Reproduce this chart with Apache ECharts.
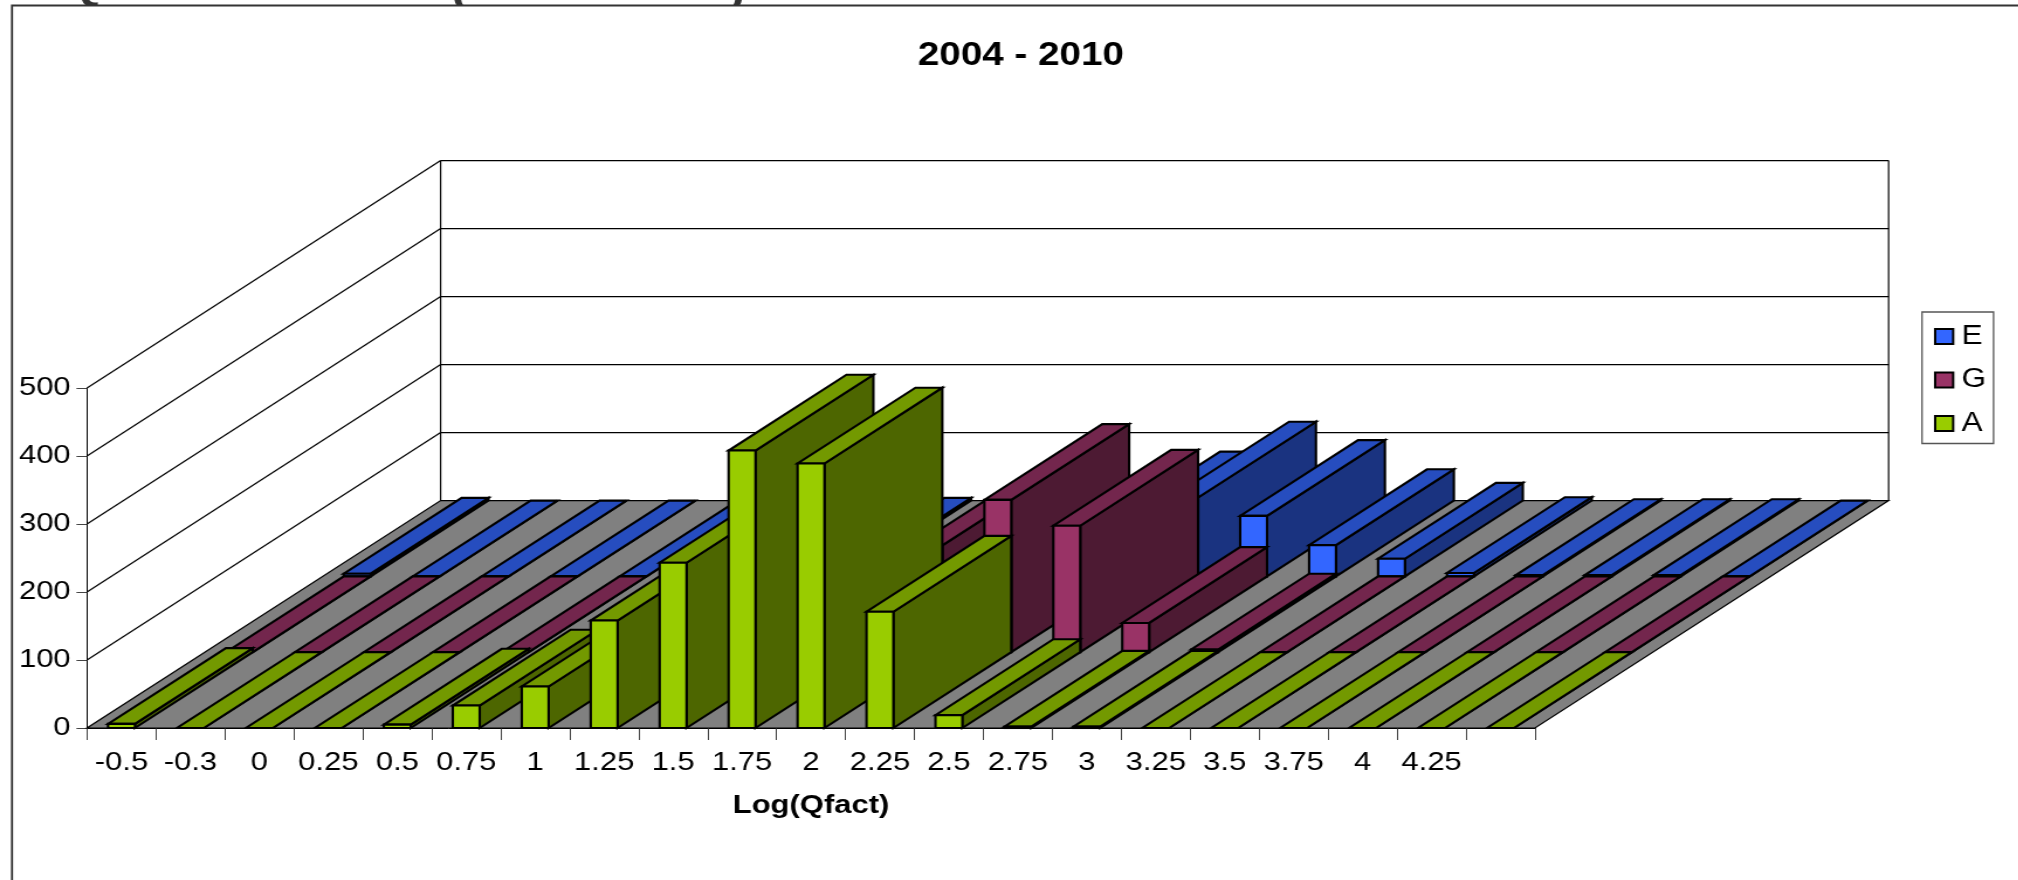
<!DOCTYPE html>
<html>
<head>
<meta charset="utf-8">
<script src="https://cdn.jsdelivr.net/npm/echarts@6/dist/echarts.min.js"></script>
<style>
html,body{margin:0;padding:0;background:#fff;overflow:hidden;width:2018px;height:880px}
#c{height:880px;transform-origin:0 0}
</style>
</head>
<body>
<div id="c"></div>
<script>
var categories = ['-0.5','-0.3','0','0.25','0.5','0.75','1','1.25','1.5','1.75','2','2.25','2.5','2.75','3','3.25','3.5','3.75','4','4.25',''];
var yTicks = [0,100,200,300,400,500];
var seriesA = [6,0,0,0,5,33,61,158,243,408,389,171,19,2,2,0,0,0,0,0,0];
var seriesG = [0,0,0,0,0,0,0,0,6,60,157,224,186,43,4,0,0,0,0,0,0];
var seriesE = [4,0,0,0,0,0,0,4,4,10,28,72,116,89,46,26,5,2,2,2,0];

// The reference picture is horizontally stretched; the chart is drawn narrower and widened as a whole.
var SX = 1.17;
var DX = 353.6 / SX, DY = 227.4, BAR = 0.39, LW = 2.1;

var el = document.getElementById('c');
el.style.width = (2018 / SX) + 'px';
el.style.transform = 'scaleX(' + SX + ')';
var chart = echarts.init(el);

function poly(pts, fill, stroke, lw) {
  return {type:'polygon', shape:{points:pts}, style:{fill:fill, stroke:stroke, lineWidth:lw}};
}
function seg(x1,y1,x2,y2,col,lw) {
  return {type:'line', shape:{x1:x1,y1:y1,x2:x2,y2:y2}, style:{stroke:col, lineWidth:lw, fill:null}};
}
function wallItem(params, api) {
  var cs = params.coordSys, t = api.value(1), y = api.coord([0,t])[1];
  var L = cs.x, R = cs.x + cs.width, kids = [];
  if (t === 0) {
    kids.push(poly([[L,y],[R,y],[R+DX,y-DY],[L+DX,y-DY]], '#808080', '#000', 1.2));
  } else {
    kids.push(seg(L,y,L+DX,y-DY,'#000',1.2));
    kids.push(seg(L+DX,y-DY,R+DX,y-DY,'#000',1.2));
  }
  if (t === yTicks[yTicks.length-1]) {
    var y0 = api.coord([0,0])[1];
    kids.push(seg(L+DX,y-DY,L+DX,y0-DY,'#000',1.2));
    kids.push(seg(R+DX,y-DY,R+DX,y0-DY,'#000',1.2));
  }
  return {type:'group', children:kids};
}
function barRenderer(z0, front, top, side) {
  return function(params, api) {
    var i = api.value(0), v = api.value(1);
    var p0 = api.coord([i,0]), p1 = api.coord([i,v]);
    var hw = api.size([1,0])[0] * BAR / 2;
    var ox = z0 * DX, oy = -z0 * DY, dx = DX / 3, dy = -DY / 3;
    var xl = p0[0] - hw + ox, xr = p0[0] + hw + ox, yb = p0[1] + oy, yt = p1[1] + oy;
    return {type:'group', children:[
      poly([[xr,yb],[xr+dx,yb+dy],[xr+dx,yt+dy],[xr,yt]], side, '#000', LW),
      poly([[xl,yt],[xr,yt],[xr+dx,yt+dy],[xl+dx,yt+dy]], top, '#000', LW),
      poly([[xl,yb],[xr,yb],[xr,yt],[xl,yt]], front, '#000', LW)
    ]};
  };
}
function pairs(arr){ return arr.map(function(v,i){ return [i,v]; }); }

chart.setOption({
  animation:false,
  backgroundColor:'#fff',
  textStyle:{fontFamily:'Liberation Sans'},
  title:{text:'2004 - 2010', left:1015/SX, top:34.5, textAlign:'center',
    textStyle:{fontFamily:'Liberation Sans',fontWeight:'bold',fontSize:33,color:'#000'}},
  legend:{data:['E','G','A'], orient:'vertical', left:1922/SX, top:312, padding:[11,6.5,6.5,12/SX],
    icon:'rect', itemWidth:18/SX, itemHeight:15, itemGap:16.5,
    borderColor:'#555', borderWidth:1.3, backgroundColor:'#fff',
    itemStyle:{borderColor:'#000',borderWidth:2},
    textStyle:{fontFamily:'Liberation Sans',fontSize:27,color:'#000',padding:[0,0,0,2]}},
  grid:{left:87/SX, top:388, width:1448/SX, height:340},
  xAxis:{type:'category', data:categories, boundaryGap:true,
    name:'Log(Qfact)', nameLocation:'middle', nameGap:64,
    nameTextStyle:{fontFamily:'Liberation Sans',fontWeight:'bold',fontSize:26.5,color:'#000'},
    axisLine:{lineStyle:{color:'#000',width:1}},
    axisTick:{show:true,length:12,interval:0,lineStyle:{color:'#444',width:1}},
    axisLabel:{interval:0,margin:21,fontFamily:'Liberation Sans',fontSize:26.5,color:'#000'},
    splitLine:{show:false}},
  yAxis:{type:'value', min:0, max:500, interval:100,
    axisLine:{show:true,lineStyle:{color:'#000',width:1}},
    axisTick:{show:true,length:9,lineStyle:{color:'#444',width:1}},
    axisLabel:{margin:14,fontFamily:'Liberation Sans',fontSize:26.5,color:'#000'},
    splitLine:{show:false}},
  graphic:[
    {type:'text', z:-2, x:65/SX, y:-35, style:{text:'Q',font:'bold 42px "Liberation Sans"',fill:'#333'}},
    {type:'text', z:-2, x:451/SX, y:-30, style:{text:'(',font:'bold 42px "Liberation Sans"',fill:'#333'}},
    {type:'text', z:-2, x:729/SX, y:-30, style:{text:')',font:'bold 42px "Liberation Sans"',fill:'#333'}},
    {type:'rect', z:-1, shape:{x:12/SX,y:5.5,width:2200/SX,height:1000},
      style:{fill:'#fff',stroke:'#333',lineWidth:1.8}}
  ],
  series:[
    {name:'walls', type:'custom', z:1, silent:true, renderItem:wallItem,
     encode:{x:0,y:1}, data:yTicks.map(function(t){return [0,t];})},
    {name:'E', type:'custom', z:2, renderItem:barRenderer(2/3,'#3366FF','#264DBF','#1A3380'),
     encode:{x:0,y:1}, itemStyle:{color:'#3366FF'}, data:pairs(seriesE)},
    {name:'G', type:'custom', z:2, renderItem:barRenderer(1/3,'#993366','#73264D','#4D1A33'),
     encode:{x:0,y:1}, itemStyle:{color:'#993366'}, data:pairs(seriesG)},
    {name:'A', type:'custom', z:2, renderItem:barRenderer(0,'#99CC00','#739900','#4D6600'),
     encode:{x:0,y:1}, itemStyle:{color:'#99CC00'}, data:pairs(seriesA)}
  ]
});
</script>
</body>
</html>
